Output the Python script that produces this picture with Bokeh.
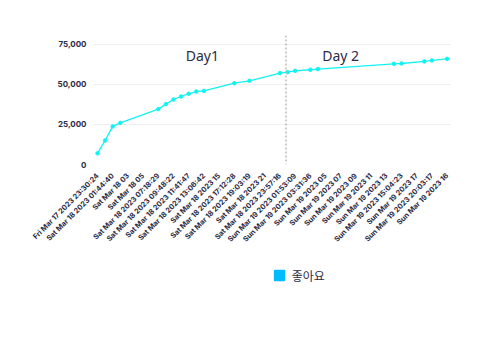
import math
from bokeh.plotting import figure
from bokeh.layouts import column
from bokeh.models import (Range1d, FixedTicker, NumeralTickFormatter, Span, Label)
from bokeh.core.properties import value
from bokeh.embed import file_html
from bokeh.resources import INLINE

# x positions (hour-step index along the time axis) and values for "좋아요"
point_x = [0, 1, 2, 3, 8, 9, 10, 11, 12, 13, 14, 18, 20, 24, 25, 26, 28, 29, 39, 40, 43, 44, 46]
likes = [7000, 15000, 23800, 26000, 34600, 37700, 40600, 42500, 44200, 45600, 46000,
         50800, 52300, 57100, 57700, 58500, 59200, 59600, 62900, 63100, 64400, 65000, 66000]

tick_x = list(range(0, 47, 2))
tick_labels = [
    "Fri Mar 17 2023 23:30:24", "Sat Mar 18 2023 01:44:40", "Sat Mar 18 03", "Sat Mar 18 05",
    "Sat Mar 18 2023 07:18:29", "Sat Mar 18 2023 09:48:22", "Sat Mar 18 2023 11:41:47",
    "Sat Mar 18 2023 13:06:42", "Sat Mar 18 2023 15", "Sat Mar 18 2023 17:12:28",
    "Sat Mar 18 2023 19:03:19", "Sat Mar 18 2023 21", "Sat Mar 18 2023 23:57:16",
    "Sun Mar 19 2023 01:53:09", "Sun Mar 19 2023 03:31:36", "Sun Mar 19 2023 05",
    "Sun Mar 19 2023 07", "Sun Mar 19 2023 09", "Sun Mar 19 2023 11", "Sun Mar 19 2023 13",
    "Sun Mar 19 2023 15:04:23", "Sun Mar 19 2023 17", "Sun Mar 19 2023 20:03:17",
    "Sun Mar 19 2023 16",
]
y_ticks = [0, 25000, 50000, 75000]
day_split_x = 24.8
day_labels = ["Day1", "Day 2"]
day_label_x = [13.8, 32.0]
day_label_y = 68000
series_name = "좋아요"

LINE = "#12F2F2"
TEXT = "#2b2b45"
LEGEND_COLOR = "#00BBFF"

p = figure(width=472, height=262, output_backend="svg", toolbar_location=None,
           x_range=Range1d(-0.53, 46.45), y_range=Range1d(0, 80600),
           min_border_left=93, min_border_right=22, min_border_top=35, min_border_bottom=98)
p.outline_line_color = None
p.background_fill_color = "white"
p.border_fill_color = "white"

p.line(point_x, likes, line_color=LINE, line_width=1.3)
p.scatter(point_x, likes, size=3.5, fill_color=LINE, line_color=LINE)

# axes
p.xaxis.ticker = FixedTicker(ticks=tick_x)
p.xaxis.major_label_overrides = {t: l for t, l in zip(tick_x, tick_labels)}
p.xaxis.major_label_orientation = math.pi / 4
p.xaxis.axis_line_color = None
p.xaxis.major_tick_line_color = None
p.xaxis.minor_tick_line_color = None
p.xaxis.major_label_text_font = "Inter"
p.xaxis.major_label_text_font_size = "7.3px"
p.xaxis.major_label_text_font_style = "bold"
p.xaxis.major_label_text_color = TEXT
p.xaxis.major_label_standoff = 4

p.yaxis.ticker = FixedTicker(ticks=y_ticks)
p.yaxis.formatter = NumeralTickFormatter(format="0,0")
p.yaxis.axis_line_color = None
p.yaxis.major_tick_line_color = None
p.yaxis.minor_tick_line_color = None
p.yaxis.major_label_text_font = "Inter"
p.yaxis.major_label_text_font_size = "8px"
p.yaxis.major_label_text_font_style = "bold"
p.yaxis.major_label_text_color = TEXT
p.yaxis.major_label_standoff = 1

p.xgrid.grid_line_color = None
p.ygrid.grid_line_color = "#eeeeee"
p.ygrid.grid_line_width = 1

p.add_layout(Span(location=day_split_x, dimension="height", line_color="#bbbbbb",
                  line_width=1.5, line_dash="2 2"))

for txt, lx in zip(day_labels, day_label_x):
    p.add_layout(Label(x=lx, y=day_label_y, text=txt, text_align="center",
                       text_baseline="middle", text_font="Noto Sans",
                       text_font_size="14px", text_color=TEXT))

# legend drawn in a small figure of its own, below the chart
lg = figure(width=472, height=30, output_backend="svg", toolbar_location=None,
            x_range=Range1d(0, 472), y_range=Range1d(0, 30),
            min_border_left=0, min_border_right=0, min_border_top=0, min_border_bottom=0)
lg.axis.visible = False
lg.grid.grid_line_color = None
lg.outline_line_color = None
lg.scatter([246], [17], marker="square", size=9, fill_color=LEGEND_COLOR,
           line_color=LEGEND_COLOR, line_width=2.5, line_join="round")
lg.text([262], [17], text=[series_name], text_font=value("Noto Sans CJK KR"),
        text_font_size="12px", text_color=TEXT, text_baseline="middle")

open("out.html", "w").write(file_html(column(p, lg, spacing=0), INLINE))
